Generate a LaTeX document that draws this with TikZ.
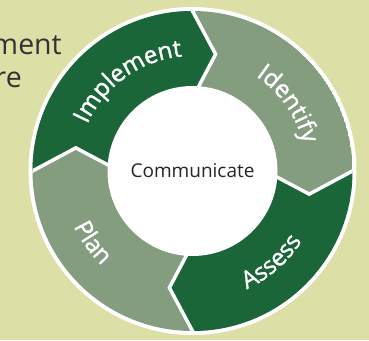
\documentclass[tikz,border=0pt]{standalone}
\usepackage{fontspec}
\usetikzlibrary{calc,decorations.text}
\newfontfamily\labfont[FakeBold=1.4]{Open Sans}
\newfontfamily\bodyfont{Open Sans}
\definecolor{bgkhaki}{HTML}{DCE0A7}
\definecolor{sage}{HTML}{849D7F}
\definecolor{forest}{HTML}{1B6638}
\definecolor{inkgray}{HTML}{333333}
\begin{document}
\begin{tikzpicture}[x=1pt,y=1pt,
  seplin/.style={draw=white,line width=3.5pt,line join=miter},
  arclabel/.style={decorate,decoration={text along path,text align=center,text color=white}},
  sidetext/.style={font=\bodyfont\fontsize{28.5}{28.5}\selectfont,text=inkgray,anchor=base east,inner sep=0pt}]
\useasboundingbox (0,0) rectangle (369,340);
\fill[bgkhaki] (0,0) rectangle (369,340);
\coordinate (C) at (192.5,169);
\node[sidetext] (t1) at (62,285) {ment};
\node[sidetext] (t2) at (22,252) {re};
\fill[white] (C) circle[radius=164];
\foreach \n/\a in {top/90,rt/0,bot/-90,lf/180}{
  \coordinate (O\n) at ($(C)+(\a:160)$);
  \coordinate (I\n) at ($(C)+({\a-4.2}:85)$);
  \coordinate (T\n) at ($(C)+({\a-11.2}:119)$);
  \coordinate (Ox\n) at ($(T\n)!1.5!(O\n)$);
  \coordinate (Ix\n) at ($(T\n)!1.6!(I\n)$);
}
\begin{scope}
  \clip (C) circle[radius=160];
  \fill[sage] (C) circle[radius=160];
  \fill[forest] (Oxlf) -- (Tlf) -- (Ixlf) -- (C) -- (Ixtop) -- (Ttop) -- (Oxtop)
     -- ($(C)+(90:250)$) -- ($(C)+(135:250)$) -- ($(C)+(180:250)$) -- cycle;
  \fill[forest] (Oxrt) -- (Trt) -- (Ixrt) -- (C) -- (Ixbot) -- (Tbot) -- (Oxbot)
     -- ($(C)+(-90:250)$) -- ($(C)+(-45:250)$) -- ($(C)+(0:250)$) -- cycle;
  \foreach \n in {top,rt,bot,lf}{
    \draw[seplin] (Ox\n) -- (T\n) -- (Ix\n);
  }
\end{scope}
\fill[white] (C) circle[radius=85];
\node[font=\bodyfont\fontsize{19}{19}\selectfont,text=black!85] (com) at (C) {Communicate};
\path[arclabel,decoration={text={|\labfont\fontsize{24}{24}\selectfont|Implement}}]
  ($(C)+(165.6:115)$) arc[start angle=165.6,end angle=85.6,radius=115];
\path[arclabel,decoration={text={|\labfont\fontsize{24}{24}\selectfont|Identify}}]
  ($(C)+(75:114)$) arc[start angle=75,end angle=-5,radius=114];
\path[arclabel,decoration={text={|\labfont\fontsize{24}{24}\selectfont|Assess}}]
  ($(C)+(-89:130)$) arc[start angle=-89,end angle=-9,radius=130];
\path[arclabel,decoration={text={|\labfont\fontsize{24}{24}\selectfont|Plan}}]
  ($(C)+(-184.4:131)$) arc[start angle=-184.4,end angle=-104.4,radius=131];
\end{tikzpicture}
\end{document}
